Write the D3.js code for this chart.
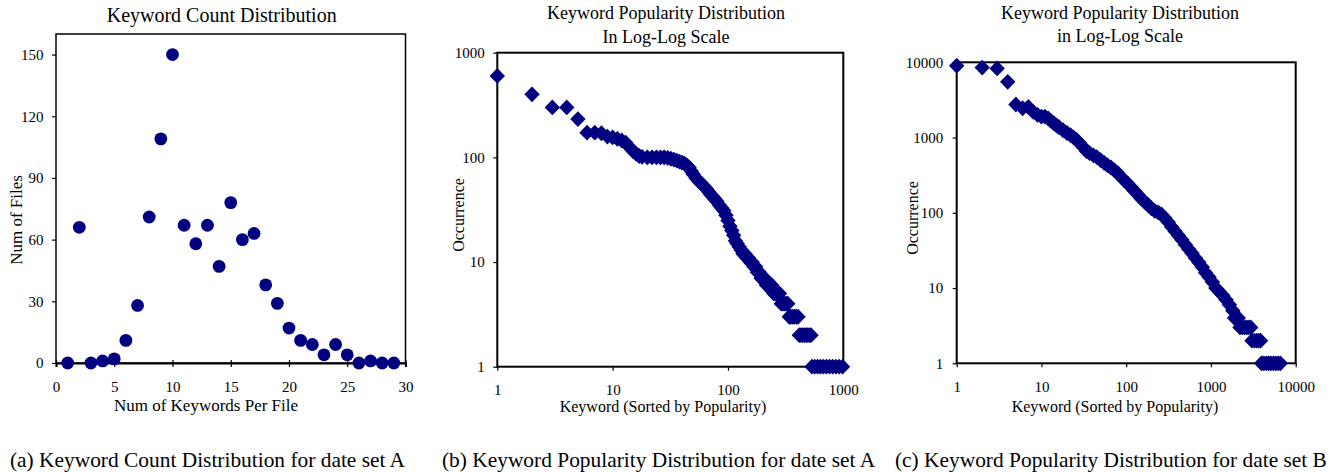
<!DOCTYPE html>
<html><head><meta charset="utf-8">
<script src="https://cdn.jsdelivr.net/npm/d3@7"></script>
<style>
body{margin:0;background:#fff}
svg{display:block}
text{font-family:"Liberation Serif","Times New Roman",serif;fill:#000}
</style>
</head><body>
<svg id="chart" width="1330" height="472"></svg>
<script>
// ---------- DATA ----------
// (a) Keyword count distribution, data set A
const keywordsPerFile = [1,2,3,4,5,6,7,8,9,10,11,12,13,14,15,16,17,18,19,20,21,22,23,24,25,26,27,28,29];
const numFiles        = [0,66,0,1,2,11,28,71,109,150,67,58,67,47,78,60,63,38,29,17,11,9,4,9,4,0,1,0,0];
const countXTicks = [0,5,10,15,20,25,30];
const countYTicks = [0,30,60,90,120,150];

// (b) Keyword popularity, data set A (rank, occurrence)
const rankA = [1,2,3,4,5,6,7,8,9,10,11,12,13,14,15,16,17,18,20,22,24,26,28,30,32,34,36,38,40,42,44,46,48,50,53,56,59,62,65,68,71,74,77,80,84,88,92,96,100,104,108,112,116,120,125,130,135,140,145,150,156,162,168,174,180,187,194,201,208,216,224,232,240,250,260,270,280,290,300,310,320,330,340,352,365,378,392,405,415,430,445,460,476,492,508,525,535,565,598,632,670,712,758,808,862,920,985];
const occA  = [600,400,300,300,232,172,172,170,158,155,150,145,138,125,115,108,103,101,100,100,100,100,100,99,97,95,93,91,89,87,84,80,74,69,63,59,56,53,50,47,44,42,40,38,35,33,31,28,25,22,20,18,16,15,14,13,12,12,11,11,10,10,9,9,8,8,7,7,7,6,6,6,6,5,5,5,5,4,4,4,4,4,3,3,3,3,3,3,2,2,2,2,2,2,2,2,1,1,1,1,1,1,1,1,1,1,1];

// (c) Keyword popularity, data set B (rank, occurrence)
const rankB = [1,2,3,4,5,6,7,8,9,10,11,12,13,14,15,16,18,20,22,24,26,28,31,34,37,41,45,50,55,60,66,72,79,87,95,104,114,125,137,150,165,180,198,217,238,261,286,314,344,377,413,453,497,545,598,656,719,789,865,949,1041,1142,1253,1374,1507,1653,1813,1900,2000,2100,2200,2350,2500,2650,2800,2950,3050,3250,3450,3650,3850,3950,4200,4500,4800,5100,5450,5800,6200,6600];
const occB  = [9000,8500,8300,5500,2750,2450,2550,2200,2000,1900,1900,1800,1650,1550,1450,1380,1250,1150,1080,1000,930,850,750,660,620,580,550,500,460,430,400,370,340,300,270,245,220,195,175,155,140,128,115,106,101,95,85,75,65,57,50,44,38,33,29,25,22,19,16,14,12,10,9,8,7,6,5,4,4,4,3,3,3,3,3,3,2,2,2,2,2,1,1,1,1,1,1,1,1,1];

const logTicksA = [1,10,100,1000];
const logTicksB = [1,10,100,1000,10000];

const titleA = ["Keyword Count Distribution"];
const titleB = ["Keyword Popularity Distribution","In Log-Log Scale"];
const titleC = ["Keyword Popularity Distribution","in Log-Log Scale"];
const xLabelA = "Num of Keywords Per File";
const yLabelA = "Num of Files";
const xLabelLog = "Keyword (Sorted by Popularity)";
const yLabelLog = "Occurrence";
const captions = ["(a) Keyword Count Distribution for date set A",
                  "(b) Keyword Popularity Distribution for date set A",
                  "(c) Keyword Popularity Distribution for date set B"];

// ---------- DRAW ----------
const svg = d3.select("#chart");
const NAVY = "#000080";
const fmt = d3.format("d");

function titleLines(lines, cx, y0, dy, size){
  lines.forEach((t,i)=>{
    svg.append("text").attr("x",cx).attr("y",y0+i*dy)
      .attr("text-anchor","middle").attr("dominant-baseline","central")
      .style("font-size",size+"px").text(t);
  });
}

// ---- Panel (a) ----
(function(){
  const L=56, R=405.5, T=34, B=363;
  const x = d3.scaleLinear().domain([0,30]).range([L,R]);
  const y = d3.scaleLinear().domain([0,160]).range([B,T]);
  svg.append("rect").attr("x",L).attr("y",T).attr("width",R-L).attr("height",B-T)
     .attr("fill","none").attr("stroke","#000").attr("stroke-width",1.5);
  const gx = svg.append("g").attr("transform",`translate(0,${B})`)
    .call(d3.axisBottom(x).tickValues(countXTicks).tickFormat(fmt).tickSizeOuter(0).tickSize(4).tickPadding(14));
  gx.select(".domain").attr("stroke-width",2);
  gx.selectAll(".tick line").attr("y1",-3).attr("y2",4).attr("stroke-width",1.2);
  const gy = svg.append("g").attr("transform",`translate(${L},0)`)
    .call(d3.axisLeft(y).tickValues(countYTicks).tickFormat(fmt).tickSizeOuter(0).tickSize(4).tickPadding(8.5));
  gy.select(".domain").remove();
  gy.selectAll(".tick line").attr("stroke-width",1.2);
  [gx,gy].forEach(g=>g.selectAll("text").style("font-size","15px").attr("font-family",null));
  svg.selectAll(".tick text").attr("fill","#000");

  svg.append("g").selectAll("circle").data(keywordsPerFile).join("circle")
    .attr("cx",d=>x(d)).attr("cy",(d,i)=>y(numFiles[i])).attr("r",6.4).attr("fill",NAVY);

  titleLines(titleA, 221.7, 15, 0, 20);
  svg.append("text").attr("x",206).attr("y",405).attr("text-anchor","middle")
     .attr("dominant-baseline","central").style("font-size","17px").text(xLabelA);
  svg.append("text").attr("transform","translate(16,220) rotate(-90)").attr("text-anchor","middle")
     .attr("dominant-baseline","central").style("font-size","17px").text(yLabelA);
})();

// ---- Log panels ----
function logPanel(o){
  const {L,R,T,B,xmax,ymax,ticks,ranks,occ,title,tcx,ty0,tdy,xlx,xly,ylx,yly,xpad,ypad}=o;
  const x = d3.scaleLog().domain([1,xmax]).range([L,R]);
  const y = d3.scaleLog().domain([1,ymax]).range([B,T]);
  svg.append("rect").attr("x",L).attr("y",T).attr("width",R-L).attr("height",B-T)
     .attr("fill","none").attr("stroke","#000").attr("stroke-width",2);
  const gx = svg.append("g").attr("transform",`translate(0,${B})`)
    .call(d3.axisBottom(x).tickValues(ticks.filter(v=>v<=xmax)).tickFormat(fmt).tickSizeOuter(0).tickSize(4).tickPadding(xpad));
  const gy = svg.append("g").attr("transform",`translate(${L},0)`)
    .call(d3.axisLeft(y).tickValues(ticks.filter(v=>v<=ymax)).tickFormat(fmt).tickSizeOuter(0).tickSize(4).tickPadding(ypad));
  [gx,gy].forEach(g=>{
    g.select(".domain").remove();
    g.selectAll(".tick line").attr("stroke-width",1.2);
    g.selectAll("text").style("font-size","15px").attr("font-family",null).attr("fill","#000");
  });
  const w=7.7, h=7.9;
  const diamond = `M0,${-h}L${w},0L0,${h}L${-w},0Z`;
  svg.append("g").selectAll("path").data(ranks).join("path")
    .attr("d",diamond).attr("transform",(d,i)=>`translate(${x(d)},${y(occ[i])})`).attr("fill",NAVY);
  titleLines(title, tcx, ty0, tdy, 18);
  svg.append("text").attr("x",xlx).attr("y",xly).attr("text-anchor","middle")
     .attr("dominant-baseline","central").style("font-size","16px").text(xLabelLog);
  svg.append("text").attr("transform",`translate(${ylx},${yly}) rotate(-90)`).attr("text-anchor","middle")
     .attr("dominant-baseline","central").style("font-size","16px").text(yLabelLog);
}

logPanel({L:497.3,R:843.3,T:52.7,B:366.7,xmax:1000,ymax:1000,ticks:logTicksA,ranks:rankA,occ:occA,
  title:titleB,tcx:666,ty0:12.5,tdy:24.3,xlx:663,xly:406.7,ylx:458,yly:215,xpad:14,ypad:8.5});
logPanel({L:956.7,R:1295.7,T:62.3,B:363.3,xmax:10000,ymax:10000,ticks:logTicksB,ranks:rankB,occ:occB,
  title:titleC,tcx:1120,ty0:12.5,tdy:23.3,xlx:1115,xly:406,ylx:912.7,yly:218,xpad:14,ypad:9.5});

// ---- Captions ----
const capX = [10, 442, 895];
captions.forEach((c,i)=>{
  svg.append("text").attr("x",capX[i]).attr("y",460).attr("dominant-baseline","central")
     .style("font-size","21.4px").text(c);
});
</script>
</body></html>
